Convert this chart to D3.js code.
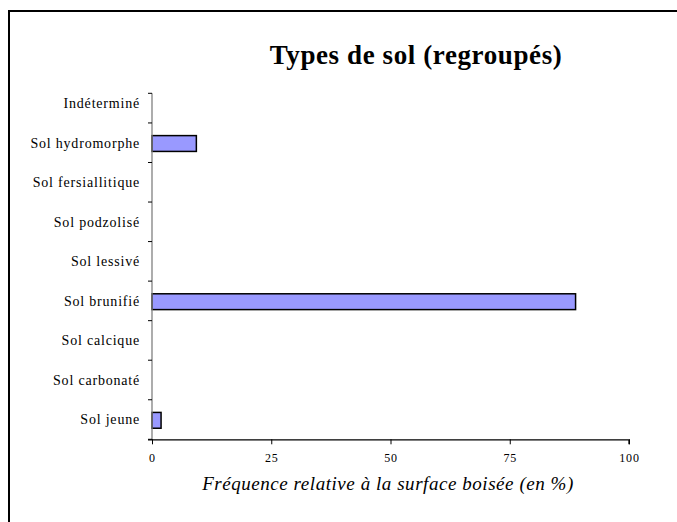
<!DOCTYPE html>
<html><head><meta charset="utf-8">
<script src="https://cdn.jsdelivr.net/npm/d3@7"></script>
<style>
body{margin:0;background:#fff;}
svg{display:block;}
text{font-family:"Liberation Serif","Times New Roman",serif;fill:#000;}
</style></head>
<body>
<svg id="c" width="677" height="522"></svg>
<script>
const categories = ["Sol jeune","Sol carbonaté","Sol calcique","Sol brunifié","Sol lessivé","Sol podzolisé","Sol fersiallitique","Sol hydromorphe","Indéterminé"];
const values = [1.9, 0, 0, 88.8, 0, 0, 0, 9.3, 0];
const xTicks = [0, 25, 50, 75, 100];
const title = "Types de sol (regroupés)";
const xTitle = "Fréquence relative à la surface boisée (en %)";

const svg = d3.select("#c");
// outer frame (cropped on right and bottom)
svg.append("rect").attr("x",9).attr("y",11).attr("width",720).attr("height",600)
  .attr("fill","none").attr("stroke","#000").attr("stroke-width",2);

const x = d3.scaleLinear().domain([0,100]).range([152,629]);
const y = d3.scaleBand().domain(categories).range([439.3,83.4]).paddingInner(0.6).paddingOuter(0.3);
const yb = d3.scaleBand().domain(categories).range([439.3,83.4]);
const axisTop = 93.3;

// bars
svg.selectAll("rect.bar").data(categories.map((c,i)=>({c,v:values[i]})).filter(d=>d.v>0))
  .enter().append("rect").attr("class","bar")
  .attr("x",x(0)).attr("y",d=>y(d.c)+0.8).attr("width",d=>x(d.v)-x(0)).attr("height",y.bandwidth())
  .attr("fill","#9999FF").attr("stroke","#000").attr("stroke-width",1.5);

// y axis line
svg.append("line").attr("x1",x(0)).attr("x2",x(0)).attr("y1",axisTop).attr("y2",yb.range()[0])
  .attr("stroke","#808080").attr("stroke-width",1.3);
// y ticks at band boundaries
const bounds = categories.map(c=>yb(c)).map(v=>Math.max(v,axisTop));
bounds.push(yb.range()[0]);
svg.selectAll("line.yt").data(bounds).enter().append("line").attr("class","yt")
  .attr("x1",x(0)-4).attr("x2",x(0)).attr("y1",d=>d).attr("y2",d=>d)
  .attr("stroke","#000").attr("stroke-width",1);
// y labels
svg.selectAll("text.yl").data(categories).enter().append("text").attr("class","yl")
  .attr("x",140).attr("y",d=>yb(d)+yb.bandwidth()/2+4.8)
  .attr("text-anchor","end").attr("font-size",14).attr("letter-spacing",0.8)
  .text(d=>d);

// x axis
const gx = svg.append("g").attr("transform",`translate(0,${yb.range()[0]})`)
  .call(d3.axisBottom(x).tickValues(xTicks).tickSize(5).tickPadding(9).tickFormat(d3.format("d")));
gx.select(".domain").attr("stroke","#000").attr("stroke-width",1.3).attr("d",`M${x(0)-4},0.5H${x(100)}V5`);
gx.selectAll(".tick line").attr("stroke","#000");
gx.selectAll(".tick text").attr("font-family","Liberation Serif").attr("font-size",12).attr("letter-spacing",0.8).attr("fill","#000");

// titles
svg.append("text").attr("x",416).attr("y",64).attr("text-anchor","middle")
  .attr("font-size",27).attr("font-weight","bold").attr("letter-spacing",0.6).text(title);
svg.append("text").attr("x",388).attr("y",490).attr("text-anchor","middle")
  .attr("font-size",19).attr("font-style","italic").attr("letter-spacing",0.55).text(xTitle);
</script>
</body></html>
